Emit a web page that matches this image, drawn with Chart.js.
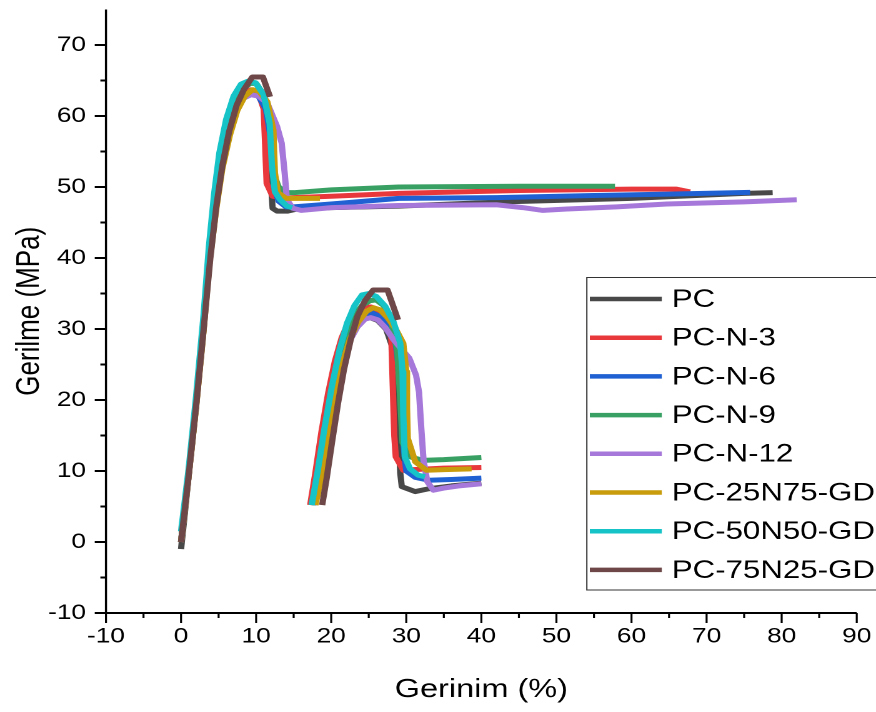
<!DOCTYPE html>
<html>
<head>
<meta charset="utf-8">
<script src="https://cdn.jsdelivr.net/npm/chart.js@4.4.1/dist/chart.umd.min.js"></script>
<style>
  html, body { margin: 0; padding: 0; background: #fff; overflow: hidden; }
  /* the reference figure is stretched horizontally, so draw narrow and widen */
  #wrap { width: 701px; height: 712px; transform: scaleX(1.2496); transform-origin: 0 0; }
</style>
</head>
<body>
<div id="wrap"><canvas id="chart" width="701" height="712"></canvas></div>
<script>
// series names (legend order)
const seriesNames = ['PC', 'PC-N-3', 'PC-N-6', 'PC-N-9', 'PC-N-12', 'PC-25N75-GD', 'PC-50N50-GD', 'PC-75N25-GD'];

// main curves [strain %, stress MPa]
const pcMain = [[0,-1],[0.5,4],[1,9.3],[2,19.3],[3,30.2],[3.8,40],[4.6,47.5],[5.4,53.3],[6.3,57.8],[7.3,61],[8.3,62.6],[9.3,63.2],[10.3,63],[11.2,61.5],[11.8,57],[12,50],[12.2,47],[12.8,46.6],[14.2,46.6],[15.5,46.9],[20,47.1],[29,47.3],[43,47.9],[60,48.4],[75,49.1],[78.8,49.2]];
const n3Main = [[0,0],[1,9.5],[2,19.5],[3,30.5],[3.8,40.3],[4.6,47.6],[5.4,53.4],[6.3,57.9],[7.3,61.4],[8.3,63.2],[9.3,63.7],[10.3,63.2],[11,61],[11.2,56],[11.4,50.5],[12.2,48.7],[13.5,48.4],[15,48.5],[20,48.7],[29,49.1],[45,49.5],[60,49.7],[66,49.7],[67.8,49.3]];
const n6Main = [[0,0],[1,9.4],[2,19.4],[3,30.4],[3.8,40.2],[4.6,47.5],[5.4,53.3],[6.3,57.8],[7.3,61.2],[8.3,62.8],[9.3,63.2],[10.3,62.8],[11.3,61],[12.1,56],[12.4,50],[13,48],[14,47.2],[15,47.2],[20,47.6],[29,48.4],[42,48.5],[55,48.8],[65,49],[75.8,49.25]];
const n9Main = [[0,0],[1,9.6],[2,19.6],[3,30.6],[3.8,40.6],[4.5,47.8],[5.3,53.6],[6.2,58.2],[7.2,61.8],[8.2,63.8],[9.2,64.6],[10,64.6],[11,63],[12,58],[12.3,52],[13,50],[14,49.2],[15,49.2],[20,49.6],[29,50],[45,50.1],[57.8,50.1]];
const n12Main = [[0,0],[1,9.3],[2,19.2],[3,30],[3.8,39.8],[4.6,47.2],[5.4,53],[6.3,57.5],[7.3,60.8],[8.3,62.5],[9.3,63],[10.3,62.8],[11.5,61.8],[12.8,58.5],[13.4,56.2],[13.8,52],[14.1,48.2],[14.9,47],[16,46.7],[20,47.1],[29,47.4],[42,47.5],[45.5,47.1],[48.2,46.7],[51.4,46.9],[58,47.2],[64.7,47.6],[75,47.9],[82,48.2]];
const gd25Main = [[0,0],[1,9.2],[2,19],[3,29.8],[3.8,39.5],[4.7,47],[5.5,52.6],[6.5,57.3],[7.5,60.8],[8.5,62.8],[9.5,63.7],[10.4,63.5],[11.5,62],[12.3,58],[12.5,52],[12.9,49.2],[14,48.4],[16,48.4],[18.5,48.4]];
const gd50Main = [[0,1.5],[1,10.2],[2,20.5],[3,32],[3.7,41.5],[4.4,49],[5.1,54.8],[6,59.5],[7,62.8],[8,64.5],[8.9,64.9],[9.9,64.7],[11,63],[11.8,59],[12.1,53],[12.5,49.3],[13.2,48.2],[14.1,47.3],[14.8,47.1]];
const gd75Main = [[0,0],[1,9.2],[2,19.1],[3,29.9],[3.9,40],[4.7,47.3],[5.5,53],[6.4,57.8],[7.4,61.5],[8.4,63.8],[9.5,65.5],[10.9,65.5],[11.85,62.7]];

// second (inset) group of curves
const pcInset = [[17.5,5.2],[18.3,9.5],[19.2,15.3],[20.1,20.8],[21,25.2],[22,28.4],[23,30.4],[24.1,31.4],[25.2,31.6],[26.2,31.2],[27.3,30],[28.3,27],[28.8,20],[29.1,12],[29.2,9.7],[29.4,7.8],[31.2,7.1],[33,7.5],[36,7.9],[40,8.3]];
const n3Inset = [[17.2,5.2],[17.9,9.8],[18.7,15.5],[19.6,21],[20.5,25.5],[21.4,28.8],[22.4,31.2],[23.4,32.6],[24.4,33.1],[25.3,33.1],[26.5,32.4],[27.6,31],[28,29],[28.2,22],[28.4,15],[28.6,12],[29.6,10.1],[31,10.2],[35,10.4],[40,10.5]];
const n6Inset = [[17.6,5.2],[18.4,9.5],[19.3,15.2],[20.2,20.7],[21.1,25.4],[22.1,28.8],[23.1,31],[24.3,32.1],[25.4,32.3],[26.4,31.8],[27.5,30.5],[28.6,28],[29.3,22],[29.6,14],[30,10],[31.2,9.1],[33,8.7],[36,8.8],[40,9]];
const n9Inset = [[17.4,5.2],[18.2,9.7],[19.1,15.8],[20,21.4],[21,26.1],[22,29.6],[23.1,32],[24.2,33.4],[25.2,34],[26,34.1],[27,33.3],[28,31],[28.8,27],[29.2,20],[29.5,14],[30.5,12],[32.2,11.5],[35,11.6],[40,11.9]];
const n12Inset = [[17.8,5.2],[18.6,9.3],[19.5,14.8],[20.4,20.2],[21.4,24.8],[22.4,28.2],[23.5,30.3],[24.5,31.4],[25.3,31.6],[26.2,31.3],[27.2,30.2],[28.3,28.5],[29.5,27],[30.4,25.9],[31.3,23.5],[31.7,21.1],[32,16],[32.3,11.5],[32.8,8.5],[33.6,7.3],[35,7.6],[37,7.9],[40,8.2]];
const gd25Inset = [[17.9,5.2],[18.7,9.2],[19.6,14.8],[20.5,20.3],[21.5,25],[22.5,28.6],[23.6,31],[24.7,32.5],[25.6,33],[26.5,32.7],[27.5,31.6],[28.6,30],[29.6,28],[30,24],[30.1,19],[30.2,14.6],[31.2,11.3],[32.7,10.1],[35,10.2],[38.7,10.3]];
const gd50Inset = [[17.4,5.2],[18.2,10],[19.1,16],[20.1,22],[21.1,27],[22.1,30.8],[23.1,33.3],[24.1,34.8],[25,35],[26,34.6],[27.2,33.2],[28.3,31],[29.2,28],[29.5,24],[29.6,18],[29.8,12],[30.5,10.3],[31.6,9.4],[32.5,9.2]];
const gd75Inset = [[18.8,5.2],[19.4,9],[20.1,14],[20.9,19.5],[21.7,24.3],[22.6,28.5],[23.5,31.8],[24.5,34],[25.6,35.5],[27.5,35.5],[28.9,31.3]];

const mainCurves = [pcMain, n3Main, n6Main, n9Main, n12Main, gd25Main, gd50Main, gd75Main];
const insetCurves = [pcInset, n3Inset, n6Inset, n9Inset, n12Inset, gd25Inset, gd50Inset, gd75Inset];

// axis ranges / ticks
const xMin = -10, xMax = 90, xStep = 10;
const yMin = -10, yMax = 75, yStep = 10, yTopLabel = 70;

const colors = ['#484848', '#e8383c', '#1f60d2', '#38a062', '#a678da', '#c89c0a', '#16c4c8', '#6e4848'];
const FONT = '"Liberation Sans", Arial, sans-serif';

const toPoints = arr => arr.map(p => ({ x: p[0], y: p[1] }));

const datasets = [];
[mainCurves, insetCurves].forEach(group => {
  group.forEach((curve, i) => {
    datasets.push({
      label: seriesNames[i],
      data: toPoints(curve),
      showLine: true,
      borderColor: colors[i],
      backgroundColor: colors[i],
      borderWidth: 5,
      borderJoinStyle: 'round',
      pointRadius: 0,
      fill: false,
      tension: 0,
      order: -i
    });
  });
});

// axis lines plus major/minor ticks
const axesTicks = {
  id: 'axesTicks',
  afterDraw(chart) {
    const { ctx, chartArea: a } = chart;
    const xs = chart.scales.x, ys = chart.scales.y;
    ctx.save();
    ctx.strokeStyle = '#000';
    ctx.lineWidth = 1.7;
    ctx.beginPath();
    ctx.moveTo(a.left, a.top); ctx.lineTo(a.left, a.bottom + 1);
    ctx.stroke();
    ctx.lineWidth = 2;
    ctx.beginPath();
    ctx.moveTo(a.left - 1, a.bottom); ctx.lineTo(a.right, a.bottom);
    ctx.stroke();
    ctx.lineWidth = 1.6;
    for (let v = xMin; v <= xMax; v += 5) {
      const px = xs.getPixelForValue(v);
      const len = v % 10 === 0 ? 10 : 5;
      ctx.beginPath(); ctx.moveTo(px, a.bottom); ctx.lineTo(px, a.bottom + len); ctx.stroke();
    }
    ctx.lineWidth = 2;
    for (let v = yMin; v <= yTopLabel; v += 5) {
      const py = ys.getPixelForValue(v);
      const len = v % 10 === 0 ? 9 : 4.5;
      ctx.beginPath(); ctx.moveTo(a.left, py); ctx.lineTo(a.left - len, py); ctx.stroke();
    }
    ctx.restore();
  }
};

// boxed legend inside the plot, right side
const boxLegend = {
  id: 'boxLegend',
  afterDraw(chart) {
    const ctx = chart.ctx;
    ctx.save();
    ctx.fillStyle = '#fff';
    ctx.fillRect(469.6, 277, 260, 313);
    ctx.strokeStyle = '#333';
    ctx.lineWidth = 1;
    ctx.strokeRect(469.6, 277.5, 260, 312.5);
    ctx.font = '25px ' + FONT;
    ctx.textBaseline = 'middle';
    seriesNames.forEach((name, i) => {
      const y = 299 + i * 38.7;
      ctx.strokeStyle = colors[i];
      ctx.lineWidth = 4.5;
      ctx.beginPath(); ctx.moveTo(472, y); ctx.lineTo(529.6, y); ctx.stroke();
      ctx.fillStyle = '#000';
      ctx.fillText(name, 537.6, y + 1);
    });
    ctx.restore();
  }
};

// keep the plot box fixed: no extra room for overhanging tick labels
const noOverhang = s => { s.paddingLeft = 0; s.paddingRight = 0; s.paddingTop = 0; s.paddingBottom = 0; };

new Chart(document.getElementById('chart'), {
  type: 'scatter',
  data: { datasets },
  plugins: [axesTicks, boxLegend],
  options: {
    responsive: false,
    animation: false,
    devicePixelRatio: 2,
    layout: { padding: { left: 0, right: 15.4, top: 9.5, bottom: 0 } },
    plugins: { legend: { display: false }, tooltip: { enabled: false } },
    scales: {
      x: {
        type: 'linear',
        min: xMin, max: xMax,
        afterFit: s => { s.height = 99; noOverhang(s); },
        grid: { display: false, drawTicks: false, tickLength: 0 },
        border: { display: false },
        ticks: { stepSize: xStep, padding: 11, autoSkip: false, maxRotation: 0, color: '#000', font: { family: FONT, size: 21 } },
        title: { display: true, text: 'Gerinim (%)', color: '#000', font: { family: FONT, size: 26 }, padding: { top: 0, bottom: 6.4 } }
      },
      y: {
        type: 'linear',
        min: yMin, max: yMax,
        afterFit: s => { s.width = 84.8; noOverhang(s); },
        grid: { display: false, drawTicks: false, tickLength: 0 },
        border: { display: false },
        ticks: {
          stepSize: yStep, padding: 16, autoSkip: false, color: '#000', font: { family: FONT, size: 21 },
          callback: v => (v % 10 === 0 && v <= yTopLabel ? v : '')
        },
        title: { display: true, text: 'Gerilme (MPa)', color: '#000', font: { family: FONT, size: 26 }, padding: { top: 8.4, bottom: 0 } }
      }
    }
  }
});
</script>
</body>
</html>
